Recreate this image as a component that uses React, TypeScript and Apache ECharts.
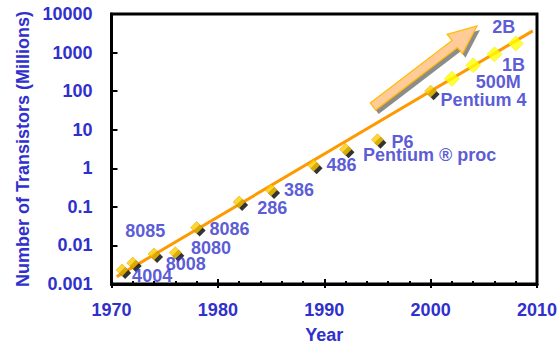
import React, { useEffect, useRef } from "react";
import * as echarts from "echarts";

// ---- data ----
const chipNames = ["4004", "8008", "8080", "8085", "8086", "286", "386", "486", "Pentium ® proc", "P6", "Pentium 4"];
const chipYears = [1971, 1972, 1974, 1976, 1978, 1982, 1985, 1989, 1992, 1995, 2000];
const chipTransistors = [0.0023, 0.0035, 0.006, 0.0065, 0.029, 0.134, 0.275, 1.2, 3.1, 5.5, 100];

const futureNames = ["", "500M", "1B", "2B"];
const futureYears = [2002, 2004, 2006, 2008];
const futureTransistors = [210, 470, 900, 1720];

const trendYears = [1970.5, 2009.6];
const trendTransistors = [0.00155, 3660];

const xTickYears = [1970, 1980, 1990, 2000, 2010];
const yTickValues = [0.001, 0.01, 0.1, 1, 10, 100, 1000, 10000];

// ---- layout (label offsets from marker centers, px) ----
const chipLabelOffsets = [
  [30, 6], [53, 1], [57, -6], [-30, -22], [33, 1], [33, 6], [28, 0], [28, 0], [84, 6], [25, 2], [53, 9],
];
const futureLabelOffsets = [[0, 0], [25, 17], [19, 11], [-12, -16]];

const BLUE = "#3030CC";
const FONT = 'Arial, "Liberation Sans", sans-serif';

function fmtY(v: number): string {
  if (v >= 1) return String(Math.round(v));
  return String(Number(v.toPrecision(1)));
}

const labelStyle = {
  color: BLUE,
  fontSize: 18,
  fontWeight: "bold" as const,
  fontFamily: FONT,
};

export default function App() {
  const ref = useRef<HTMLDivElement>(null);
  useEffect(() => {
    if (!ref.current) return;
    const chart = echarts.init(ref.current, undefined, { renderer: "svg" });

    const chipData = chipYears.map((y, i) => ({
      value: [y, chipTransistors[i]],
      name: chipNames[i],
      label: { offset: chipLabelOffsets[i] },
    }));
    const shadowData = chipYears.map((y, i) => [y, chipTransistors[i]]);
    const futureData = futureYears.map((y, i) => ({
      value: [y, futureTransistors[i]],
      name: futureNames[i],
      label: { show: futureNames[i] !== "", offset: futureLabelOffsets[i] },
    }));
    const trendData = trendYears.map((y, i) => [y, trendTransistors[i]]);

    // arrow geometry (decorative)
    const arrowPts = [
      [370.3, 102.9],
      [452.1, 40.4],
      [447.1, 34.3],
      [477, 26],
      [462.5, 53.7],
      [457.5, 47.6],
      [375.7, 110.1],
    ];
    const shadowPts = arrowPts.map((p) => [p[0] + 3, p[1] + 4]);

    chart.setOption({
      animation: false,
      backgroundColor: "#ffffff",
      grid: {
        left: 111.5,
        right: 21,
        top: 14,
        bottom: 57,
        outerBoundsMode: "none",
        containLabel: false,
        show: true,
        borderColor: "#000",
        borderWidth: 3,
        backgroundColor: "transparent",
      },
      xAxis: [
        {
          type: "value",
          min: xTickYears[0],
          max: xTickYears[xTickYears.length - 1],
          interval: 10,
          name: "Year",
          nameLocation: "middle",
          nameGap: 42,
          nameTextStyle: labelStyle,
          axisLine: { lineStyle: { color: "#000", width: 3 } },
          axisTick: { inside: true, length: 5, lineStyle: { color: "#000", width: 2 } },
          minorTick: { show: true, splitNumber: 5, length: 3, lineStyle: { color: "#000", width: 2 } },
          splitLine: { show: false },
          minorSplitLine: { show: false },
          axisLabel: { ...labelStyle, margin: 17, formatter: (v: number) => String(v) },
        },
        {
          type: "value",
          position: "bottom",
          min: xTickYears[0],
          max: xTickYears[xTickYears.length - 1],
          interval: 10,
          axisLine: { show: false },
          axisTick: { inside: false, length: 4, lineStyle: { color: "#000", width: 2 } },
          axisLabel: { show: false },
          splitLine: { show: false },
        },
      ],
      yAxis: {
        type: "log",
        logBase: 10,
        min: yTickValues[0],
        max: yTickValues[yTickValues.length - 1],
        splitNumber: 7,
        name: "Number of Transistors (Millions)",
        nameLocation: "middle",
        nameGap: 79,
        nameTextStyle: labelStyle,
        axisLine: { show: true, lineStyle: { color: "#000", width: 3 } },
        axisTick: { show: true, inside: true, length: 6, lineStyle: { color: "#000", width: 2 } },
        splitLine: { show: false },
        axisLabel: { ...labelStyle, margin: 19, formatter: (v: number) => fmtY(v) },
      },
      graphic: [
        {
          type: "polygon",
          shape: { points: shadowPts },
          style: { fill: "#8c8c8c" },
          z: 5,
        },
        {
          type: "polygon",
          shape: { points: arrowPts },
          style: { fill: "#FFCC99", stroke: "#FFBB00", lineWidth: 1.2 },
          z: 6,
        },
      ],
      series: [
        {
          type: "line",
          data: trendData,
          symbol: "none",
          lineStyle: { color: "#FF9900", width: 3 },
          z: 1,
          silent: true,
        },
        {
          type: "scatter",
          data: shadowData,
          symbol: "diamond",
          symbolSize: 12,
          symbolOffset: [3, 3],
          itemStyle: { color: "#000" },
          z: 2,
          silent: true,
        },
        {
          type: "scatter",
          data: chipData,
          symbol: "diamond",
          symbolSize: 12,
          itemStyle: { color: "#FFCC00", borderColor: "#E0A000", borderWidth: 0.6 },
          label: {
            show: true,
            position: "inside",
            formatter: (p: any) => p.name,
            lineHeight: 15,
            ...labelStyle,
          },
          z: 3,
        },
        {
          type: "scatter",
          data: futureData,
          symbol: "diamond",
          symbolSize: 15,
          itemStyle: { color: "#FFFF00", borderColor: "#F0E000", borderWidth: 0.6 },
          label: {
            position: "inside",
            formatter: (p: any) => p.name,
            lineHeight: 15,
            ...labelStyle,
          },
          z: 3,
        },
      ],
    });
    return () => chart.dispose();
  }, []);

  return (
    <div
      ref={ref}
      style={{ position: "absolute", left: 0, top: 0, width: 558, height: 341, background: "#fff" }}
    />
  );
}
